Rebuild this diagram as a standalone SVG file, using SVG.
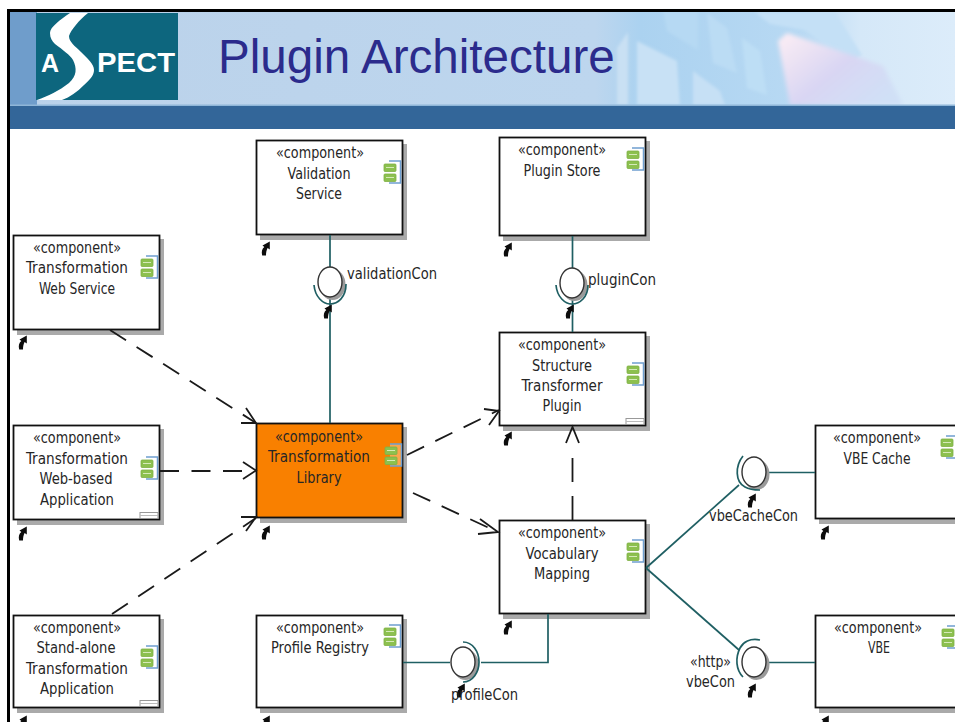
<svg xmlns="http://www.w3.org/2000/svg" xmlns:xlink="http://www.w3.org/1999/xlink" width="955" height="722" viewBox="0 0 955 722">
<style>
.box{fill:#fff;stroke:#111;stroke-width:1.8}
.lib{fill:#f98000}
.shadow{fill:#aaa}
text{font-family:"DejaVu Sans Condensed","DejaVu Sans",sans-serif;font-stretch:condensed;font-size:15.5px;fill:#262626}
.c{text-anchor:middle}
.h{font-family:"Liberation Sans",Arial,sans-serif;font-stretch:normal}
.dash{fill:none;stroke:#1a1a1a;stroke-width:1.8;stroke-dasharray:19 12.500}
.dash2{fill:none;stroke:#1a1a1a;stroke-width:1.8;stroke-dasharray:24 14}
.head{fill:none;stroke:#1a1a1a;stroke-width:1.8}
.wire{fill:none;stroke:#1f5f63;stroke-width:1.7}
.sock{fill:none;stroke:#1f5f63;stroke-width:1.7}
.ball{fill:#fff;stroke:#333;stroke-width:1.4}
.ballsh{fill:#9a9a9a}
</style>
<defs>
<linearGradient id="sky" x1="0" x2="1" y1="0" y2="0">
<stop offset="0" stop-color="#bbd2ea"/><stop offset="0.62" stop-color="#bdd6ee"/><stop offset="0.667" stop-color="#abd2f0"/><stop offset="0.836" stop-color="#b8d9f3"/><stop offset="0.9" stop-color="#d5e8f8"/><stop offset="1" stop-color="#dcecfa"/>
</linearGradient>
<linearGradient id="pink" x1="0" x2="1" y1="0" y2="0.7">
<stop offset="0" stop-color="#fdeef4"/><stop offset="0.55" stop-color="#d9d6f3"/><stop offset="1" stop-color="#d0e0f6"/>
</linearGradient>
<filter id="soft" x="-20%" y="-20%" width="140%" height="140%"><feGaussianBlur stdDeviation="1.800"/></filter>
<filter id="softer" x="-20%" y="-20%" width="140%" height="140%"><feGaussianBlur stdDeviation="2.200"/></filter>
<g id="icon">
<path d="M5 0H16.500V22H5" fill="#fff" fill-opacity="0.3" stroke="#6f9fd0" stroke-width="1.500"/>
<rect x="0" y="3" width="12" height="7.500" rx="1" fill="#8cc04f" stroke="#7fb044" stroke-width=".8"/>
<rect x="0" y="13" width="12" height="7.500" rx="1" fill="#8cc04f" stroke="#7fb044" stroke-width=".8"/>
<path d="M2 6.500H10M2 16.500H10" stroke="#d5eab8" stroke-width="1"/>
</g>
<path id="mini" d="M1.500 3.500L8.800 -0.500L8.800 7.500L6.600 6C5.600 8 5 10 5 13.500H1.200C0.200 9.500 1 7 3.300 5Z" fill="#0c0c0c"/>
<g id="grip">
<rect x="0" y="0" width="18" height="6" fill="#fff" stroke="#999" stroke-width="1"/>
<path d="M0 3H18" stroke="#bbb" stroke-width="1"/>
</g>
</defs>
<rect width="955" height="722" fill="#fff"/>
<g id="header">
<rect x="9" y="11" width="946" height="95" fill="url(#sky)"/>
<rect x="9" y="11" width="28" height="95" fill="#6f9dcb"/>
<g filter="url(#soft)">
<path d="M617 48L628 32V105H617Z" fill="#c9e0f3"/>
<path d="M637 41L677 61L680 105H637Z" fill="#c8e1f5"/>
<path d="M663 11H698V50L667 31Z" fill="#b6d9f3"/>
<path d="M707 13L727 28L737 73L713 63Z" fill="#bbdcf4"/>
<path d="M693 71L720 91L725 105H693Z" fill="#c6e0f5"/>
<path d="M742 38L760 51L767 95L747 88Z" fill="#bddef5"/>
<path d="M755 12H835L862 55L850 62L805 30L770 24Z" fill="#c4e0f6"/>
</g>
<path d="M778 41L787 33L883 66L903 105H790Z" fill="url(#pink)" filter="url(#softer)"/>
<rect x="9" y="104.500" width="946" height="2" fill="#8fb6d8"/>
<rect x="9" y="106" width="946" height="23" fill="#336699"/>
<rect x="36" y="13" width="142" height="87" fill="#0d667e"/>
<path d="M70 13C60 20 50 27 50 33C50 38 52 41 55 44C63 50 70 55 73 60C77 68 77 76 69 83C59 91 48 96 37 100H62C70 97 77 92 84 85C92 78 94 74 94 70C94 64 87 58 81 52C75 46 69 42 69 36C71 30 79 20 88 13Z" fill="#fff"/>
<text x="41" y="72" class="h" style="font-weight:bold;font-size:25px;fill:#fff">A</text>
<text x="97" y="72" class="h" textLength="78" lengthAdjust="spacingAndGlyphs" style="font-weight:bold;font-size:28px;fill:#fff">PECT</text>
<text x="218" y="73" class="h" style="font-size:47.600px;fill:#2b2b8c">Plugin Architecture</text>
<rect x="7" y="9" width="948" height="3" fill="#000"/>
<rect x="7" y="9" width="3" height="713" fill="#000"/>
</g>

<g id="validation-service">
<rect class="shadow" x="260" y="144" width="147" height="96"/>
<rect class="box" x="256.500" y="140.500" width="146" height="94"/>
<use xlink:href="#icon" href="#icon" x="384" y="161"/>
<use xlink:href="#mini" href="#mini" x="261" y="242"/>
<text class="c" x="320" y="158" textLength="88" lengthAdjust="spacingAndGlyphs">«component»</text><text class="c" x="319" y="179" textLength="63" lengthAdjust="spacingAndGlyphs">Validation</text><text class="c" x="319" y="199" textLength="46" lengthAdjust="spacingAndGlyphs">Service</text>
</g>
<g id="plugin-store">
<rect class="shadow" x="503" y="141" width="147" height="100"/>
<rect class="box" x="499.500" y="137.500" width="146" height="98"/>
<use xlink:href="#icon" href="#icon" x="627" y="148"/>
<use xlink:href="#mini" href="#mini" x="503" y="243"/>
<text class="c" x="562" y="155" textLength="88" lengthAdjust="spacingAndGlyphs">«component»</text><text class="c" x="562" y="176" textLength="77" lengthAdjust="spacingAndGlyphs">Plugin Store</text>
</g>
<g id="web-service">
<rect class="shadow" x="17" y="239" width="147" height="96"/>
<rect class="box" x="13.500" y="235.500" width="146" height="94"/>
<use xlink:href="#icon" href="#icon" x="141" y="256"/>
<use xlink:href="#mini" href="#mini" x="18" y="336"/>
<text class="c" x="77" y="253" textLength="88" lengthAdjust="spacingAndGlyphs">«component»</text><text class="c" x="77" y="273" textLength="102" lengthAdjust="spacingAndGlyphs">Transformation</text><text class="c" x="77" y="294" textLength="76" lengthAdjust="spacingAndGlyphs">Web Service</text>
</g>
<g id="web-application">
<rect class="shadow" x="17" y="429" width="147" height="96"/>
<rect class="box" x="13.500" y="425.500" width="146" height="94"/>
<use xlink:href="#icon" href="#icon" x="141" y="457"/>
<use xlink:href="#grip" href="#grip" x="140" y="512.500"/>
<use xlink:href="#mini" href="#mini" x="18" y="527"/>
<text class="c" x="77" y="443" textLength="88" lengthAdjust="spacingAndGlyphs">«component»</text><text class="c" x="77" y="464" textLength="102" lengthAdjust="spacingAndGlyphs">Transformation</text><text class="c" x="76" y="484" textLength="73" lengthAdjust="spacingAndGlyphs">Web-based</text><text class="c" x="77" y="505" textLength="74" lengthAdjust="spacingAndGlyphs">Application</text>
</g>
<g id="standalone-application">
<rect class="shadow" x="17" y="619" width="147" height="94"/>
<rect class="box" x="13.500" y="615.500" width="146" height="92"/>
<use xlink:href="#icon" href="#icon" x="141" y="646"/>
<use xlink:href="#grip" href="#grip" x="140" y="700.500"/>
<use xlink:href="#mini" href="#mini" x="18" y="716"/>
<text class="c" x="77" y="633" textLength="88" lengthAdjust="spacingAndGlyphs">«component»</text><text class="c" x="76" y="653" textLength="79" lengthAdjust="spacingAndGlyphs">Stand-alone</text><text class="c" x="77" y="674" textLength="102" lengthAdjust="spacingAndGlyphs">Transformation</text><text class="c" x="77" y="694" textLength="74" lengthAdjust="spacingAndGlyphs">Application</text>
</g>
<g id="transformation-library">
<rect class="shadow" x="260" y="427" width="147" height="96"/>
<rect class="box lib" x="256.500" y="423.500" width="146" height="94"/>
<use xlink:href="#icon" href="#icon" x="385" y="444"/>
<use xlink:href="#mini" href="#mini" x="261" y="526"/>
<text class="c" x="319" y="442" textLength="88" lengthAdjust="spacingAndGlyphs">«component»</text><text class="c" x="319" y="462" textLength="102" lengthAdjust="spacingAndGlyphs">Transformation</text><text class="c" x="319" y="483" textLength="45" lengthAdjust="spacingAndGlyphs">Library</text>
</g>
<g id="structure-transformer">
<rect class="shadow" x="503" y="336" width="147" height="95"/>
<rect class="box" x="499.500" y="332.500" width="146" height="93"/>
<use xlink:href="#icon" href="#icon" x="627" y="363"/>
<use xlink:href="#grip" href="#grip" x="626" y="418.500"/>
<use xlink:href="#mini" href="#mini" x="503" y="432"/>
<text class="c" x="562" y="350" textLength="88" lengthAdjust="spacingAndGlyphs">«component»</text><text class="c" x="562" y="371" textLength="60" lengthAdjust="spacingAndGlyphs">Structure</text><text class="c" x="562" y="391" textLength="81" lengthAdjust="spacingAndGlyphs">Transformer</text><text class="c" x="562" y="411" textLength="39" lengthAdjust="spacingAndGlyphs">Plugin</text>
</g>
<g id="vocabulary-mapping">
<rect class="shadow" x="503" y="524" width="147" height="95"/>
<rect class="box" x="499.500" y="520.500" width="146" height="93"/>
<use xlink:href="#icon" href="#icon" x="627" y="540"/>
<use xlink:href="#mini" href="#mini" x="503" y="621"/>
<text class="c" x="562" y="538" textLength="88" lengthAdjust="spacingAndGlyphs">«component»</text><text class="c" x="562" y="559" textLength="73" lengthAdjust="spacingAndGlyphs">Vocabulary</text><text class="c" x="562" y="579" textLength="56" lengthAdjust="spacingAndGlyphs">Mapping</text>
</g>
<g id="profile-registry">
<rect class="shadow" x="260" y="619" width="147" height="94"/>
<rect class="box" x="256.500" y="615.500" width="146" height="92"/>
<use xlink:href="#icon" href="#icon" x="384" y="625"/>
<use xlink:href="#mini" href="#mini" x="261" y="716"/>
<text class="c" x="320" y="633" textLength="88" lengthAdjust="spacingAndGlyphs">«component»</text><text class="c" x="320" y="653" textLength="98" lengthAdjust="spacingAndGlyphs">Profile Registry</text>
</g>
<g id="vbe-cache">
<rect class="shadow" x="819" y="429" width="140" height="95"/>
<rect class="box" x="815.500" y="425.500" width="145" height="93"/>
<use xlink:href="#icon" href="#icon" x="941" y="436"/>
<use xlink:href="#mini" href="#mini" x="820" y="526"/>
<text class="c" x="877" y="443" textLength="88" lengthAdjust="spacingAndGlyphs">«component»</text><text class="c" x="877" y="464" textLength="67" lengthAdjust="spacingAndGlyphs">VBE Cache</text>
</g>
<g id="vbe">
<rect class="shadow" x="819" y="619" width="140" height="94"/>
<rect class="box" x="815.500" y="615.500" width="145" height="92"/>
<use xlink:href="#icon" href="#icon" x="942" y="626"/>
<use xlink:href="#mini" href="#mini" x="820" y="716"/>
<text class="c" x="878" y="633" textLength="88" lengthAdjust="spacingAndGlyphs">«component»</text><text class="c" x="879" y="653" textLength="22" lengthAdjust="spacingAndGlyphs">VBE</text>
</g>

<g id="connectors">
<path class="wire" d="M330 235V268M330 296V423"/>
<path class="wire" d="M572.500 236V269M572.500 300V332"/>
<path class="wire" d="M767 472.500H815"/>
<path class="wire" d="M646 568L739 485"/>
<path class="wire" d="M646 568L739 650"/>
<path class="wire" d="M767 662.500H815"/>
<path class="wire" d="M403 662.500H450M481 662.500H548V614"/>
<path class="dash" d="M110 330L256 423"/>
<path class="head" d="M246 408L256 423H241"/>
<path class="dash" d="M160 471H250"/>
<path class="head" d="M243 462L256 470.500L243 479"/>
<path class="dash" d="M112 614L256 518"/>
<path class="head" d="M241 517H256L246 531"/>
<path class="dash" d="M407 455L499 410"/>
<path class="head" d="M484 409L499 411L489 425"/>
<path class="dash" d="M413 493L498 532"/>
<path class="head" d="M480 519L498 532L478 534"/>
<path class="dash2" d="M572.500 520V456"/>
<path class="head" d="M566 443L572.500 427L579 443"/>
</g>

<g id="iface-validation">
<ellipse class="ballsh" cx="332.500" cy="284.500" rx="13" ry="15.500"/>
<path class="sock" d="M314 285C315 297 323 304 330 304C338 304 346 297 346 284"/>
<ellipse class="ball" cx="330" cy="282" rx="12" ry="15"/>
<use xlink:href="#mini" href="#mini" x="323" y="305"/>
<text x="347" y="279" textLength="90" lengthAdjust="spacingAndGlyphs">validationCon</text>
</g>
<g id="iface-plugin">
<ellipse class="ballsh" cx="574.500" cy="285.500" rx="13" ry="15.500"/>
<path class="sock" d="M556 285C557 297 565 304 572 304C580 304 588 297 588 285"/>
<ellipse class="ball" cx="572" cy="283" rx="12" ry="15"/>
<use xlink:href="#mini" href="#mini" x="565" y="305"/>
<text x="588" y="285" textLength="68" lengthAdjust="spacingAndGlyphs">pluginCon</text>
</g>
<g id="iface-vbecache">
<ellipse class="ballsh" cx="756.500" cy="474.500" rx="13" ry="15.500"/>
<path class="sock" d="M743 456C735 466 735 482 745 487C750 490 755 490 760 490"/>
<ellipse class="ball" cx="754" cy="472" rx="12" ry="15"/>
<use xlink:href="#mini" href="#mini" x="747" y="494"/>
<text x="709" y="521" textLength="89" lengthAdjust="spacingAndGlyphs">vbeCacheCon</text>
</g>
<g id="iface-vbe">
<ellipse class="ballsh" cx="756.500" cy="664.500" rx="13" ry="15.500"/>
<path class="sock" d="M760 640C750 638 743 642 740 648C735 658 736 670 743 677"/>
<ellipse class="ball" cx="754" cy="662" rx="12" ry="15"/>
<use xlink:href="#mini" href="#mini" x="747" y="684"/>
<text x="690" y="667" textLength="41" lengthAdjust="spacingAndGlyphs">«http»</text>
<text x="686" y="687" textLength="49" lengthAdjust="spacingAndGlyphs">vbeCon</text>
</g>
<g id="iface-profile">
<ellipse class="ballsh" cx="465.500" cy="664.500" rx="13" ry="15.500"/>
<path class="sock" d="M463 642C473 642 479 652 479 662C479 672 473 682 463 682"/>
<ellipse class="ball" cx="463" cy="662" rx="12" ry="15"/>
<use xlink:href="#mini" href="#mini" x="456" y="684"/>
<text x="451" y="700" textLength="67" lengthAdjust="spacingAndGlyphs">profileCon</text>
</g>
</svg>
